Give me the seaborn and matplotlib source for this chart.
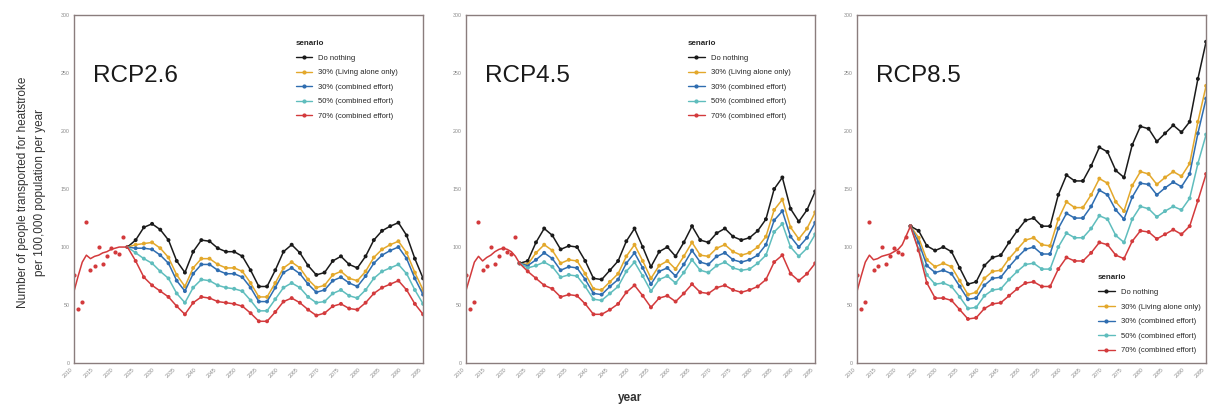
import pandas as pd
import matplotlib
matplotlib.use("Agg")
import matplotlib.pyplot as plt
from matplotlib.lines import Line2D
import seaborn as sns

sns.set_style("white")
plt.rcParams['font.family'] = ['Liberation Sans', 'DejaVu Sans']

# scenario names and colours
scenarios = ["Do nothing", "30% (Living alone only)", "30% (combined effort)",
             "50% (combined effort)", "70% (combined effort)"]
colors = ["#1a1a1a", "#e3a82b", "#2f6db0", "#5fbdbd", "#d33a3c"]

# observed period (red dots) and the smoothed line up to the branch point
obs_years = list(range(2010, 2023))
obs_dots = [76, 47, 53, 122, 80, 84, 100, 85, 92, 99, 96, 94, 109]
obs_line_years = list(range(2010, 2024))
obs_line_26 = [62, 75, 87, 93, 90, 92, 93, 95, 96, 98, 99, 100, 100, 100]
obs_line_45 = [63, 75, 87, 92, 88, 91, 93, 96, 98, 99, 98, 96, 92, 86]
obs_line_85 = [62, 75, 87, 93, 89, 90, 92, 93, 94, 96, 98, 102, 110, 118]

# projections, every second year 2023..2095
proj_years = list(range(2023, 2096, 2))

rcp26_nothing = [100, 106, 117, 120, 115, 106, 88, 78, 96, 106, 105, 99, 96, 96, 92, 80, 66, 66, 80, 96,
                 102, 95, 84, 76, 78, 88, 92, 85, 82, 92, 106, 114, 118, 121, 110, 90, 73]
rcp26_alone30 = [100, 102, 103, 104, 99, 91, 76, 66, 82, 90, 90, 85, 82, 82, 79, 69, 57, 57, 69, 82,
                 87, 82, 72, 65, 67, 76, 79, 73, 71, 79, 91, 98, 102, 105, 95, 78, 63]
rcp26_comb30 = [100, 99, 99, 98, 93, 86, 71, 62, 77, 85, 85, 80, 77, 77, 74, 65, 53, 53, 65, 78,
                82, 77, 68, 61, 63, 71, 74, 69, 66, 75, 86, 93, 97, 100, 90, 73, 59]
rcp26_comb50 = [100, 95, 90, 86, 79, 73, 60, 52, 65, 72, 71, 67, 65, 64, 62, 54, 45, 45, 55, 65,
                69, 65, 57, 52, 53, 60, 63, 58, 56, 63, 73, 79, 82, 85, 77, 63, 51]
rcp26_comb70 = [100, 88, 74, 67, 62, 57, 49, 42, 52, 57, 56, 53, 52, 51, 49, 43, 36, 36, 44, 53,
                56, 52, 46, 41, 43, 49, 51, 47, 46, 52, 60, 65, 68, 71, 63, 51, 42]

rcp45_nothing = [86, 88, 104, 116, 110, 98, 101, 100, 88, 73, 72, 80, 88, 105, 116, 100, 83, 96, 100, 92,
                 104, 118, 106, 104, 112, 116, 109, 106, 108, 114, 124, 150, 160, 133, 122, 132, 148]
rcp45_alone30 = [86, 85, 95, 102, 97, 86, 89, 88, 77, 64, 63, 70, 77, 92, 102, 88, 73, 84, 88, 81,
                 92, 104, 93, 92, 99, 102, 96, 93, 95, 100, 109, 132, 141, 117, 107, 116, 130]
rcp45_comb30 = [86, 84, 89, 95, 90, 80, 83, 82, 72, 60, 59, 66, 72, 86, 95, 82, 68, 79, 82, 75,
                85, 97, 87, 85, 92, 95, 89, 87, 89, 93, 102, 123, 131, 109, 100, 108, 121]
rcp45_comb50 = [86, 82, 84, 87, 83, 74, 76, 75, 66, 55, 54, 60, 66, 79, 87, 75, 62, 72, 75, 69,
                78, 89, 80, 78, 84, 87, 82, 80, 81, 86, 93, 113, 120, 100, 92, 99, 111]
rcp45_comb70 = [86, 79, 73, 67, 64, 57, 59, 58, 51, 42, 42, 46, 51, 61, 67, 58, 48, 56, 58, 53,
                60, 68, 61, 60, 65, 67, 63, 61, 63, 66, 72, 87, 93, 77, 71, 77, 86]

rcp85_nothing = [118, 114, 101, 97, 100, 96, 82, 68, 70, 84, 91, 93, 104, 114, 123, 125, 118, 118, 145, 162,
                 157, 157, 170, 186, 182, 166, 160, 188, 204, 202, 191, 198, 205, 199, 208, 245, 277]
rcp85_alone30 = [118, 108, 89, 83, 86, 83, 71, 59, 61, 73, 79, 80, 90, 98, 106, 108, 102, 101, 124, 139,
                 134, 134, 145, 159, 155, 139, 131, 153, 165, 163, 154, 160, 165, 161, 172, 208, 239]
rcp85_comb30 = [118, 104, 84, 78, 80, 77, 66, 55, 56, 67, 73, 74, 83, 91, 98, 100, 94, 94, 116, 129,
                125, 125, 135, 149, 145, 132, 124, 143, 155, 154, 145, 151, 156, 152, 163, 198, 228]
rcp85_comb50 = [118, 98, 76, 68, 69, 66, 57, 47, 48, 58, 63, 64, 72, 79, 85, 86, 81, 81, 100, 112,
                108, 108, 116, 127, 124, 110, 104, 124, 135, 133, 126, 131, 135, 132, 142, 172, 197]
rcp85_comb70 = [118, 97, 69, 56, 56, 54, 46, 38, 39, 47, 51, 52, 58, 64, 69, 70, 66, 66, 81, 91,
                88, 88, 95, 104, 102, 93, 90, 105, 114, 113, 107, 111, 115, 111, 118, 140, 163]

panels = [
    ("RCP2.6", obs_line_26, [rcp26_nothing, rcp26_alone30, rcp26_comb30, rcp26_comb50, rcp26_comb70]),
    ("RCP4.5", obs_line_45, [rcp45_nothing, rcp45_alone30, rcp45_comb30, rcp45_comb50, rcp45_comb70]),
    ("RCP8.5", obs_line_85, [rcp85_nothing, rcp85_alone30, rcp85_comb30, rcp85_comb50, rcp85_comb70]),
]

palette = dict(zip(scenarios, colors))
red = colors[-1]
spine_col = "#8a7d7d"

fig = plt.figure(figsize=(12.14, 4.07), dpi=100)
lefts = [0.061, 0.384, 0.706]

for i, (name, obs_line, series) in enumerate(panels):
    ax = fig.add_axes([lefts[i], 0.108, 0.2875, 0.855])

    proj = pd.concat([pd.DataFrame({"year": proj_years, "value": vals, "senario": lab})
                      for vals, lab in zip(series, scenarios)], ignore_index=True)
    obs = pd.DataFrame({"year": obs_line_years, "value": obs_line})
    obs_pts = pd.DataFrame({"year": obs_years, "value": obs_dots})

    sns.lineplot(data=obs, x="year", y="value", color=red, lw=1.1, ax=ax)
    sns.scatterplot(data=obs_pts, x="year", y="value", color=red, s=9, linewidth=0, ax=ax)
    sns.lineplot(data=proj, x="year", y="value", hue="senario", palette=palette,
                 estimator=None, lw=1.1, legend=False, ax=ax)
    sns.scatterplot(data=proj, x="year", y="value", hue="senario", palette=palette,
                    s=8, linewidth=0, legend=False, ax=ax)

    ax.set_xlim(2010, 2095)
    ax.set_ylim(0, 300)
    ax.set_xticks(range(2010, 2096, 5))
    ax.set_yticks(range(0, 301, 50))
    ax.set_xticklabels([str(y) for y in range(2010, 2096, 5)], rotation=45, ha="right")
    ax.tick_params(labelsize=3.8, labelcolor="#888888", length=2, width=0.6,
                   color="#888888", pad=1)
    ax.set_xlabel("")
    ax.set_ylabel("")
    for sp in ax.spines.values():
        sp.set_color(spine_col)
        sp.set_linewidth(1.0)

    ax.text(0.055, 0.808, name, transform=ax.transAxes, fontsize=17.5,
            va="baseline", ha="left", color="#1a1a1a")

    handles = [Line2D([0], [0], color=c, lw=1, marker="o", markersize=2) for c in colors]
    if i < 2:
        leg = ax.legend(handles, scenarios, title="senario", loc="upper left",
                        bbox_to_anchor=(0.615, 0.948), fontsize=5.5, title_fontsize=5.8,
                        frameon=False, handlelength=2.2, labelspacing=0.95, alignment="left")
    else:
        leg = ax.legend(handles, scenarios, title="senario", loc="lower left",
                        bbox_to_anchor=(0.67, 0.005), fontsize=5.5, title_fontsize=5.8,
                        frameon=False, handlelength=2.2, labelspacing=0.95, alignment="left")
    leg.get_title().set_fontweight("bold")

fig.text(0.026, 0.528, "Number of people transported for heatstroke\nper 100,000 population per year",
         rotation=90, ha="center", va="center", fontsize=8.5, linespacing=1.6, color="#333333")
fig.text(0.519, 0.022, "year", ha="center", va="center", fontsize=8.5,
         fontweight="bold", color="#333333")

fig.savefig("out.png", dpi=100)
